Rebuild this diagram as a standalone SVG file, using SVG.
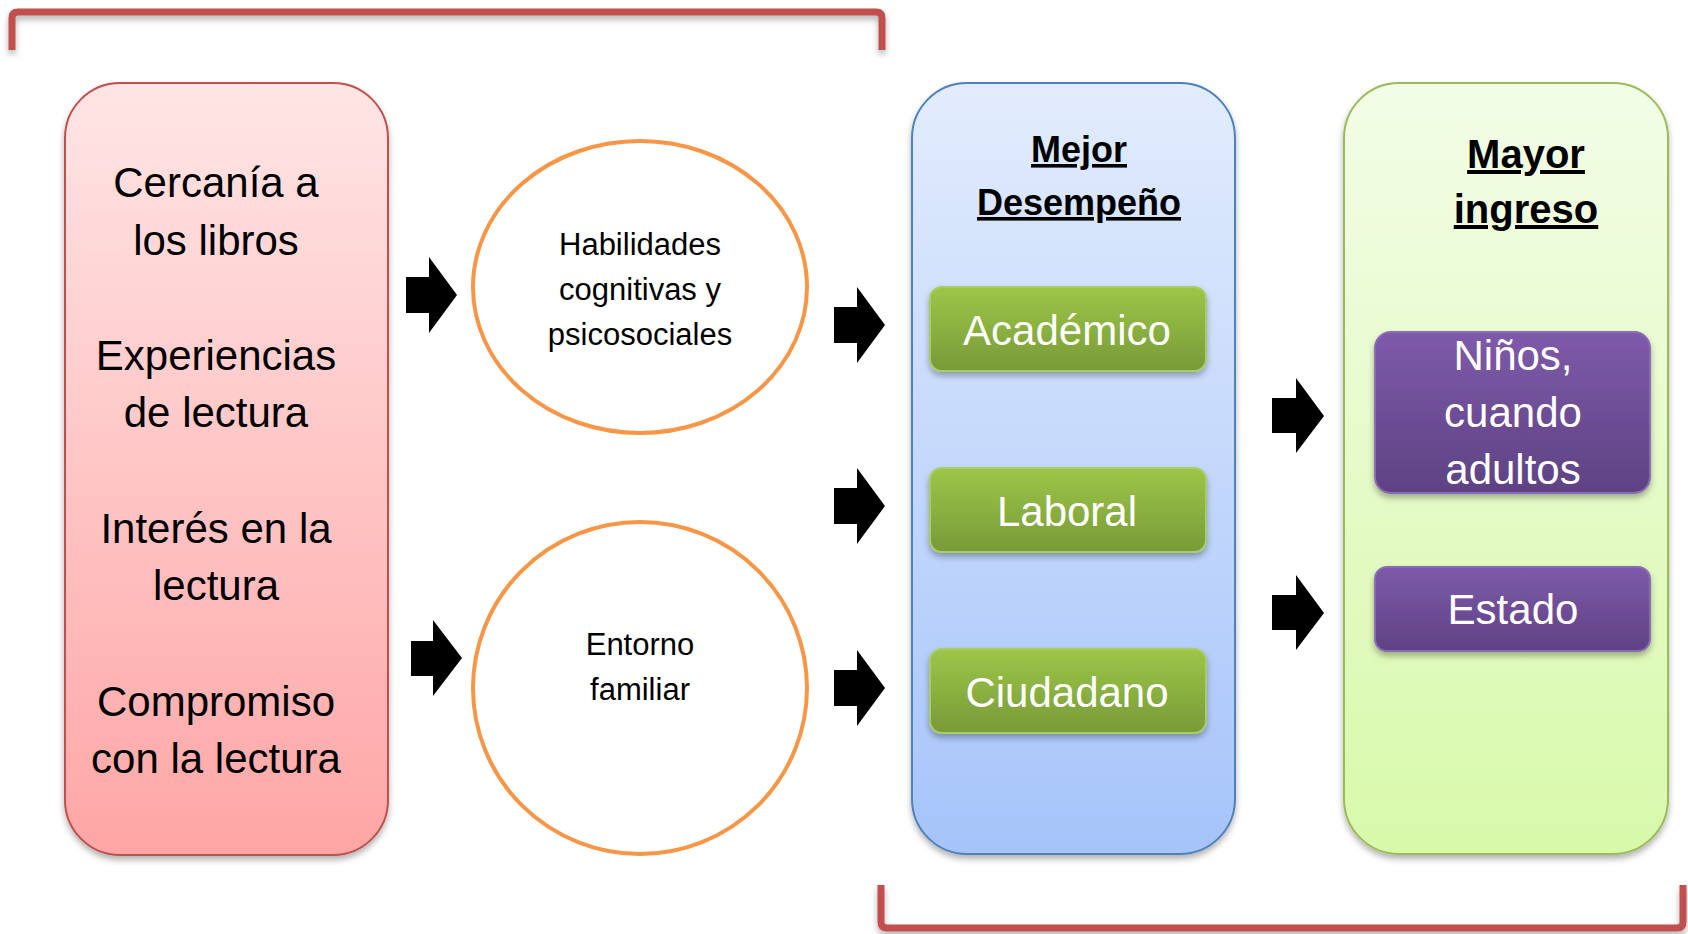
<svg xmlns="http://www.w3.org/2000/svg" width="1688" height="934" viewBox="0 0 1688 934">
<style>
text{font-family:"Liberation Sans",Arial,sans-serif;text-anchor:middle}
.big{font-size:42px;fill:#000}
.small{font-size:31px;fill:#000}
.btn{font-size:42px;fill:#fff}
.hd{font-weight:bold;fill:#000;text-decoration:underline}
.ell{fill:#fff;stroke:#F79646;stroke-width:4}
.arrow{fill:#000}
.brk{fill:none;stroke:#C0504D;stroke-width:7;stroke-linejoin:round}
</style>
<defs>
<linearGradient id="gPink" x1="0" y1="0" x2="0" y2="1"><stop offset="0" stop-color="#FFE5E5"/><stop offset="1" stop-color="#FFA6A6"/></linearGradient>
<linearGradient id="gBlue" x1="0" y1="0" x2="0" y2="1"><stop offset="0" stop-color="#E2ECFD"/><stop offset="1" stop-color="#A6C4FA"/></linearGradient>
<linearGradient id="gLime" x1="0" y1="0" x2="0" y2="1"><stop offset="0" stop-color="#F3FDE7"/><stop offset="1" stop-color="#D8F9AA"/></linearGradient>
<linearGradient id="gGreen" x1="0" y1="0" x2="0" y2="1"><stop offset="0" stop-color="#9DC648"/><stop offset="1" stop-color="#789A38"/></linearGradient>
<linearGradient id="gPurple" x1="0" y1="0" x2="0" y2="1"><stop offset="0" stop-color="#7E5AAA"/><stop offset="1" stop-color="#5E4283"/></linearGradient>
<filter id="sh" x="-10%" y="-10%" width="120%" height="130%"><feDropShadow dx="0" dy="4" stdDeviation="3" flood-color="#000" flood-opacity="0.3"/></filter>
</defs>

<g id="bracket-top"><path class="brk" d="M12,50 V18 Q12,12 18,12 H876 Q882,12 882,18 V50" filter="url(#sh)"/></g>
<g id="bracket-bottom"><path class="brk" d="M881,885 V922 Q881,928 887,928 H1677 Q1683,928 1683,922 V885" filter="url(#sh)"/></g>

<g id="node-factors">
<rect x="65" y="83" width="323" height="772" rx="55" fill="url(#gPink)" stroke="#C0504D" stroke-width="2" filter="url(#sh)"/>
<text class="big" x="216" y="197">Cercanía a</text>
<text class="big" x="216" y="255">los libros</text>
<text class="big" x="216" y="370">Experiencias</text>
<text class="big" x="216" y="427">de lectura</text>
<text class="big" x="216" y="543">Interés en la</text>
<text class="big" x="216" y="600">lectura</text>
<text class="big" x="216" y="716">Compromiso</text>
<text class="big" x="216" y="773">con la lectura</text>
</g>

<g id="node-habilidades">
<ellipse class="ell" cx="640" cy="287" rx="167" ry="146"/>
<text class="small" x="640" y="255">Habilidades</text>
<text class="small" x="640" y="300">cognitivas y</text>
<text class="small" x="640" y="345">psicosociales</text>
</g>

<g id="node-entorno">
<ellipse class="ell" cx="640" cy="688" rx="167" ry="166"/>
<text class="small" x="640" y="655">Entorno</text>
<text class="small" x="640" y="700">familiar</text>
</g>

<g id="node-desempeno">
<rect x="912" y="83" width="323" height="771" rx="55" fill="url(#gBlue)" stroke="#4F81BD" stroke-width="2" filter="url(#sh)"/>
<text class="hd" x="1079" y="162" font-size="36">Mejor</text>
<text class="hd" x="1079" y="215" font-size="36">Desempeño</text>
</g>

<g id="node-academico">
<rect x="930" y="287" width="276" height="84" rx="12" fill="url(#gGreen)" stroke="#A9CC66" stroke-width="2" filter="url(#sh)"/>
<text class="btn" x="1067" y="345">Académico</text>
</g>
<g id="node-laboral">
<rect x="930" y="468" width="276" height="84" rx="12" fill="url(#gGreen)" stroke="#A9CC66" stroke-width="2" filter="url(#sh)"/>
<text class="btn" x="1067" y="526">Laboral</text>
</g>
<g id="node-ciudadano">
<rect x="930" y="649" width="276" height="84" rx="12" fill="url(#gGreen)" stroke="#A9CC66" stroke-width="2" filter="url(#sh)"/>
<text class="btn" x="1067" y="707">Ciudadano</text>
</g>

<g id="node-ingreso">
<rect x="1344" y="83" width="324" height="771" rx="55" fill="url(#gLime)" stroke="#9BBB59" stroke-width="2" filter="url(#sh)"/>
<text class="hd" x="1526" y="168" font-size="40">Mayor</text>
<text class="hd" x="1526" y="223" font-size="40">ingreso</text>
</g>

<g id="node-ninos">
<rect x="1375" y="332" width="275" height="161" rx="16" fill="url(#gPurple)" stroke="#8A6DB0" stroke-width="2" filter="url(#sh)"/>
<text class="btn" x="1513" y="370">Niños,</text>
<text class="btn" x="1513" y="427">cuando</text>
<text class="btn" x="1513" y="484">adultos</text>
</g>
<g id="node-estado">
<rect x="1375" y="567" width="275" height="84" rx="12" fill="url(#gPurple)" stroke="#8A6DB0" stroke-width="2" filter="url(#sh)"/>
<text class="btn" x="1513" y="624">Estado</text>
</g>

<g id="connectors">
<path class="arrow" d="M406,277 H429 V257 L457,295 L429,333 V313 H406 Z"/>
<path class="arrow" d="M411,641 H433 V620 L462,658 L433,696 V676 H411 Z"/>
<path class="arrow" d="M834,307 H857 V287 L885,325 L857,363 V343 H834 Z"/>
<path class="arrow" d="M834,488 H857 V468 L885,506 L857,544 V524 H834 Z"/>
<path class="arrow" d="M834,670 H857 V650 L885,688 L857,726 V706 H834 Z"/>
<path class="arrow" d="M1272,398 H1296 V378 L1324,416 L1296,453 V433 H1272 Z"/>
<path class="arrow" d="M1272,595 H1296 V575 L1324,613 L1296,650 V630 H1272 Z"/>
</g>
</svg>
